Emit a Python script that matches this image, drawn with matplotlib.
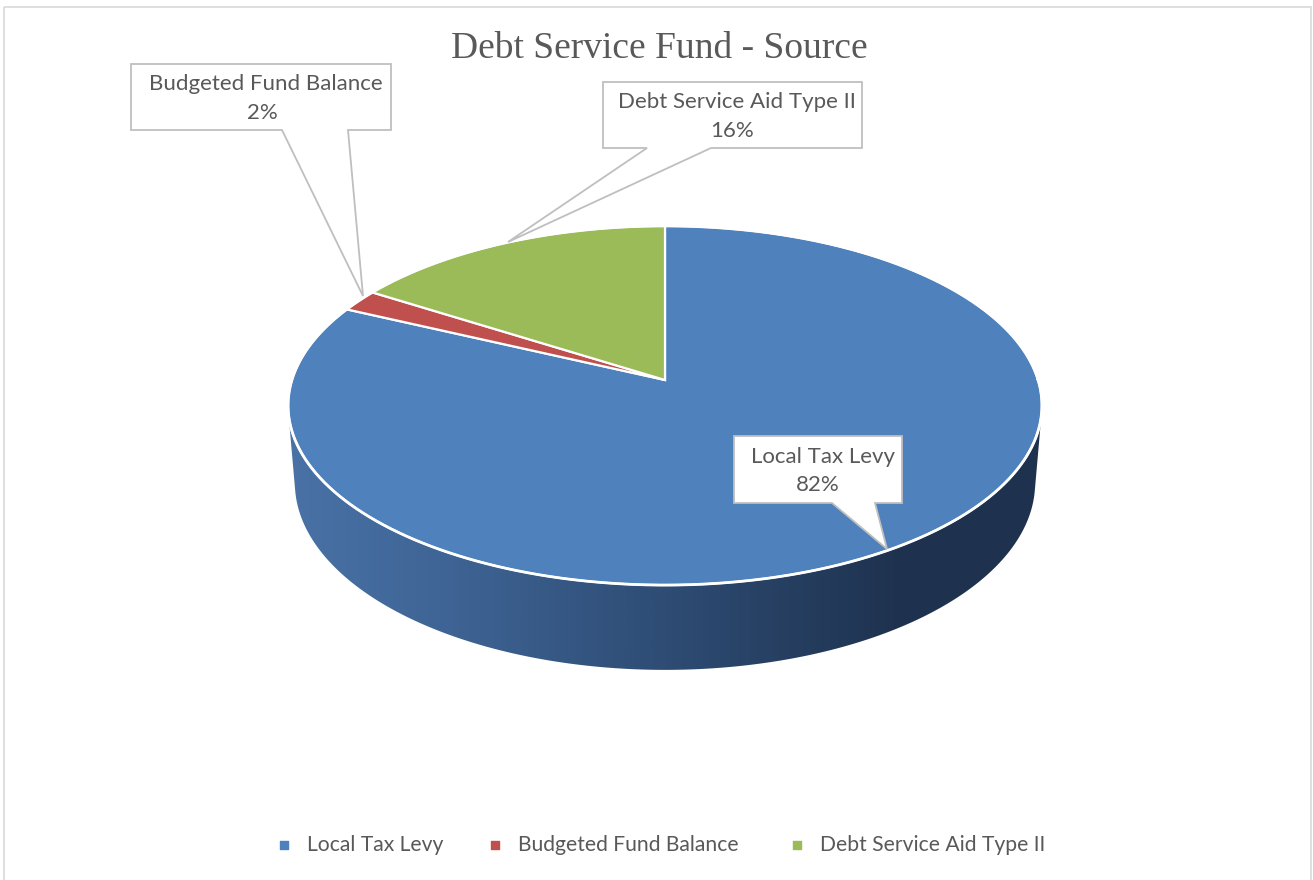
import numpy as np
import matplotlib
matplotlib.use("Agg")
import matplotlib.pyplot as plt
from matplotlib.patches import Polygon, Rectangle
from matplotlib.colors import LinearSegmentedColormap

labels = ["Local Tax Levy", "Budgeted Fund Balance", "Debt Service Aid Type II"]
values = [82, 2, 16]
colors = ["#4f81bd", "#c0504d", "#9bbb59"]
title = "Debt Service Fund - Source"

TXT = "#595959"
FONT = "Lato"

# 3d view of the pie (pixel coords)
CX, CY = 665, 380
SIN_E, COS_E = 0.4716, 0.8818
DIST, FOC, THICK = 6.21, 2317, 0.237


def proj(theta, w=0.0):
    u, v = np.cos(theta), np.sin(theta)
    z = DIST + v * COS_E - w * SIN_E
    x = CX + FOC * u / z
    y = CY - FOC * (v * SIN_E + w * COS_E) / z
    return x, y


def hull(pts):
    pts = sorted(map(tuple, pts))
    def half(p):
        out = []
        for q in p:
            while len(out) >= 2 and ((out[-1][0] - out[-2][0]) * (q[1] - out[-2][1])
                                     - (out[-1][1] - out[-2][1]) * (q[0] - out[-2][0])) <= 0:
                out.pop()
            out.append(q)
        return out
    lo = half(pts)
    hi = half(pts[::-1])
    return np.array(lo[:-1] + hi[:-1])


fig = plt.figure(figsize=(13.13, 8.8), dpi=100)
ax = fig.add_axes([0, 0, 1, 1])
ax.set_xlim(0, 1313)
ax.set_ylim(880, 0)
ax.axis("off")

# chart frame
ax.add_patch(Rectangle((3.5, 7.5), 1307, 900, fill=False, ec="#d9d9d9", lw=1.2))

# side wall
t = np.linspace(0, 2 * np.pi, 721)
top = np.column_stack(proj(t))
bot = np.column_stack(proj(t, -THICK))
hp = hull(np.vstack([top, bot]))
wall = Polygon(hp, closed=True, fc="none", ec="none")
ax.add_patch(wall)
cmap = LinearSegmentedColormap.from_list(
    "wall", [(0, "#4a72a6"), (0.2, "#3f6596"), (0.5, "#2e4c74"), (0.8, "#1f3350"), (1, "#1e3250")])
grad = np.linspace(0, 1, 400)[None, :]
im = ax.imshow(grad, cmap=cmap, extent=[285, 1048, 690, 390], aspect="auto", zorder=1)
im.set_clip_path(wall)

# top face
angles = np.deg2rad(90 - 360 * np.cumsum([0] + values) / sum(values))
for i in range(len(values)):
    th = np.linspace(angles[i], angles[i + 1], 200)
    ax_, ay_ = proj(th)
    xs = np.concatenate([[CX], ax_])
    ys = np.concatenate([[CY], ay_])
    ax.add_patch(Polygon(np.column_stack([xs, ys]), closed=True, fc=colors[i],
                         ec="white", lw=1.6, zorder=2))
ax.plot(top[:, 0], top[:, 1], color="white", lw=2, zorder=3)

# callouts
callouts = [
    [(131, 64), (391, 64), (391, 130), (348, 130), (363, 296), (282, 130), (131, 130)],
    [(603, 82), (862, 82), (862, 148), (711, 148), (508, 242), (647, 148), (603, 148)],
    [(734, 436), (902, 436), (902, 503), (875, 503), (887, 549), (832, 503), (734, 503)],
]
name_pos = [(266, 84), (737, 102), (823, 457)]
pct_pos = [(262, 113), (732, 131), (818, 485)]
order = [1, 2, 0]
for k, i in enumerate(order):
    ax.add_patch(Polygon(callouts[k], closed=True, fc="white", ec="#bfbfbf", lw=1.3, zorder=4))
    ax.text(*name_pos[k], labels[i], ha="center", va="center", fontsize=16,
            family=FONT, color=TXT, zorder=5)
    ax.text(*pct_pos[k], f"{values[i]}%", ha="center", va="center", fontsize=16,
            family=FONT, color=TXT, zorder=5)

ax.text(659, 49, title, ha="center", va="center", fontsize=27,
        family="Liberation Serif", color=TXT)

# legend
leg_x = [284, 495, 797]
for i in range(len(labels)):
    ax.scatter(leg_x[i], 845, s=40, marker="s", color=colors[i], zorder=5)
    ax.text(leg_x[i] + 23, 845, labels[i], ha="left", va="center", fontsize=15.2,
            family=FONT, color=TXT)

fig.savefig("out.png", dpi=100)
